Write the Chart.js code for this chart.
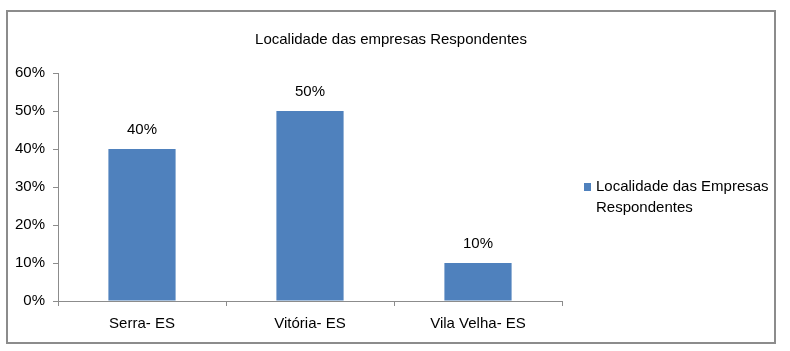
<!DOCTYPE html>
<html>
<head>
<meta charset="utf-8">
<script src="https://cdn.jsdelivr.net/npm/chart.js@4/dist/chart.umd.min.js"></script>
<style>
  html, body { margin: 0; padding: 0; background: #fff; }
  #wrap { position: relative; width: 790px; height: 351px; }
</style>
</head>
<body>
<div id="wrap"><canvas id="chart1" width="790" height="351"></canvas></div>
<script>
let categories = ["Serra- ES", "Vitória- ES", "Vila Velha- ES"];
let values = [0.40, 0.50, 0.10];
let seriesName = "Localidade das Empresas Respondentes";
let legendLines = ["Localidade das Empresas", "Respondentes"];
let chartTitle = "Localidade das empresas Respondentes";

let fontFam = "'Liberation Sans Narrow', 'Arial Narrow', 'Liberation Sans', Arial, sans-serif";
let fontSize = 15;
let barColor = '#4f81bd';

function pct(v) {
    return Math.round(v * 100) + '%';
}

// moldura, titulo, rotulos e legenda
let extras = {
    id: 'extras',
    beforeDraw(chart) {
        let ctx = chart.ctx;
        ctx.save();
        ctx.fillStyle = '#fff';
        ctx.fillRect(0, 0, chart.width, chart.height);
        ctx.strokeStyle = '#8c8c8c';
        ctx.lineWidth = 2;
        ctx.strokeRect(7, 11, 768, 332);
        ctx.fillStyle = '#000';
        ctx.font = fontSize + 'px ' + fontFam;
        ctx.textAlign = 'center';
        ctx.textBaseline = 'middle';
        ctx.fillText(chartTitle, 391, 40);
        ctx.restore();
    },
    afterDatasetsDraw(chart) {
        let ctx = chart.ctx;
        let meta = chart.getDatasetMeta(0);
        ctx.save();
        ctx.fillStyle = '#000';
        ctx.font = fontSize + 'px ' + fontFam;
        ctx.textAlign = 'center';
        ctx.textBaseline = 'middle';
        meta.data.forEach(function (bar, i) {
            ctx.fillText(pct(values[i]), bar.x, bar.y - 19);
        });

        // legenda
        let lx = 584, ly = 187;
        ctx.fillStyle = barColor;
        ctx.fillRect(lx, ly - 4, 7, 8);
        ctx.fillStyle = '#000';
        ctx.textAlign = 'left';
        legendLines.forEach(function (line, i) {
            ctx.fillText(line, lx + 12, ly + i * 21);
        });
        ctx.restore();
    }
};

let ctx = document.getElementById("chart1").getContext("2d");

new Chart(ctx, {
    type: 'bar',
    data: {
        labels: categories,
        datasets: [{
            label: seriesName,
            data: values,
            backgroundColor: barColor,
            borderWidth: 0,
            barPercentage: 0.4,
            categoryPercentage: 1.0
        }]
    },
    options: {
        responsive: false,
        animation: false,
        layout: {padding: {left: 0, right: 228, top: 73, bottom: 9}},
        plugins: {
            legend: {display: false},
            tooltip: {enabled: false},
            title: {display: false}
        },
        scales: {
            x: {
                offset: true,
                grid: {offset: true, drawOnChartArea: false, drawTicks: true, tickLength: 5, color: '#8c8c8c'},
                border: {display: true, color: '#8c8c8c', width: 1},
                ticks: {color: '#000', padding: 9, font: {family: fontFam, size: fontSize}}
            },
            y: {
                min: 0,
                max: 0.6,
                afterFit: function (scale) { scale.width = 58; },
                grid: {drawOnChartArea: false, drawTicks: true, tickLength: 5, color: '#8c8c8c'},
                border: {display: true, color: '#8c8c8c', width: 1},
                ticks: {
                    stepSize: 0.1,
                    color: '#000',
                    padding: 8,
                    font: {family: fontFam, size: fontSize},
                    callback: function (v) { return pct(v); }
                }
            }
        }
    },
    plugins: [extras]
});
</script>
</body>
</html>
